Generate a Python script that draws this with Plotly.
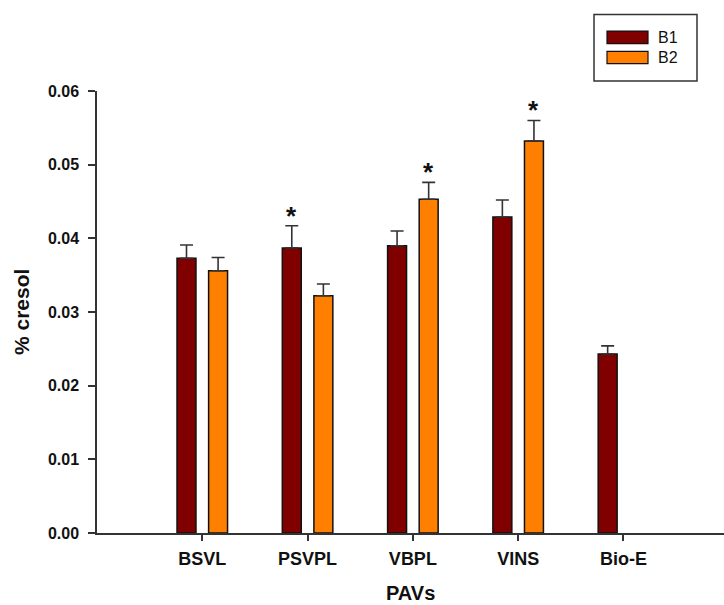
import plotly.graph_objects as go

categories = ["BSVL", "PSVPL", "VBPL", "VINS", "Bio-E"]
b1_values = [0.0373, 0.0387, 0.0390, 0.0429, 0.0243]
b1_errors = [0.0018, 0.0030, 0.0020, 0.0023, 0.0011]
b2_values = [0.0356, 0.0322, 0.0453, 0.0532, None]
b2_errors = [0.0018, 0.0016, 0.0023, 0.0028, None]
b1_sig = [False, True, False, False, False]
b2_sig = [False, False, True, True, False]
y_ticks = [0.00, 0.01, 0.02, 0.03, 0.04, 0.05, 0.06]

W, H = 724, 605
L, R, T, B = 97, 0, 90.7, 71.7
pw, ph = W - L - R, H - T - B

def px(x):
    return (x - L) / pw

def py(y):
    return (H - B - y) / ph

FONT = "Liberation Sans, Arial, sans-serif"
C1, C2 = "#800000", "#FF8000"

err_style = dict(type="data", symmetric=False, color="#333333", thickness=1.6, width=6.5)

fig = go.Figure()
fig.add_trace(go.Bar(
    x=categories, y=b1_values, name="B1",
    marker=dict(color=C1, line=dict(color="#111111", width=1.5)),
    error_y=dict(array=b1_errors, arrayminus=[0] * len(b1_errors), **err_style),
))
fig.add_trace(go.Bar(
    x=categories, y=b2_values, name="B2",
    marker=dict(color=C2, line=dict(color="#111111", width=1.5)),
    error_y=dict(array=b2_errors, arrayminus=[0] * len(b2_errors), **err_style),
))

annotations = []
offset = 0.15
for i, cat in enumerate(categories):
    for vals, errs, sig, sgn in ((b1_values, b1_errors, b1_sig, -1), (b2_values, b2_errors, b2_sig, 1)):
        if sig[i] and vals[i] is not None:
            annotations.append(dict(
                x=i + sgn * offset, y=vals[i] + errs[i], xref="x", yref="y",
                text="*", showarrow=False, yanchor="bottom", yshift=-7,
                font=dict(family=FONT, size=26, color="#111111", weight="bold"),
            ))

# axis titles
annotations.append(dict(x=0.5, y=py(605), xref="paper", yref="paper", text="PAVs",
                        showarrow=False, xanchor="center", yanchor="bottom", borderpad=0,
                        font=dict(family=FONT, size=20, color="#111111", weight="bold")))
annotations.append(dict(x=px(21), y=0.5, xref="paper", yref="paper", text="% cresol",
                        showarrow=False, xanchor="center", yanchor="middle", textangle=-90,
                        font=dict(family=FONT, size=21, color="#111111", weight="bold")))

# custom legend
shapes = [
    dict(type="rect", xref="paper", yref="paper", x0=px(594), x1=px(697), y0=py(80.7), y1=py(14),
         line=dict(color="#333333", width=1.5), fillcolor="rgba(0,0,0,0)"),
]
for name, col, y0, y1, yc in (("B1", C1, 43.3, 30.7, 37), ("B2", C2, 63.3, 51, 57.5)):
    shapes.append(dict(type="rect", xref="paper", yref="paper", x0=px(607), x1=px(648),
                       y0=py(y0), y1=py(y1), line=dict(color="#111111", width=1.2), fillcolor=col))
    annotations.append(dict(x=px(656), y=py(yc), xref="paper", yref="paper", text=name,
                            showarrow=False, xanchor="left", yanchor="middle",
                            font=dict(family=FONT, size=16, color="#111111")))

fig.update_layout(
    width=W, height=H,
    margin=dict(l=L, r=R, t=T, b=B, pad=0),
    paper_bgcolor="white", plot_bgcolor="white",
    barmode="group", bargap=0.4, bargroupgap=0.4,
    showlegend=False,
    annotations=annotations, shapes=shapes,
    font=dict(family=FONT, color="#111111"),
)
fig.update_xaxes(
    type="category", range=[-1, 4.955],
    showline=True, linecolor="#333333", linewidth=1.5,
    ticks="outside", ticklen=6, tickwidth=1.5, tickcolor="#333333",
    tickfont=dict(family=FONT, size=18, color="#111111", weight="bold"),
    ticklabelstandoff=3,
    showgrid=False, zeroline=False,
)
fig.update_yaxes(
    range=[0, 0.06], tickvals=y_ticks, tickformat=".2f",
    showline=True, linecolor="#333333", linewidth=1.5,
    ticks="outside", ticklen=7, tickwidth=1.5, tickcolor="#333333",
    tickfont=dict(family=FONT, size=16, color="#111111", weight="bold"),
    ticklabelstandoff=6,
    showgrid=False, zeroline=False,
)

fig.write_html("out.html")
